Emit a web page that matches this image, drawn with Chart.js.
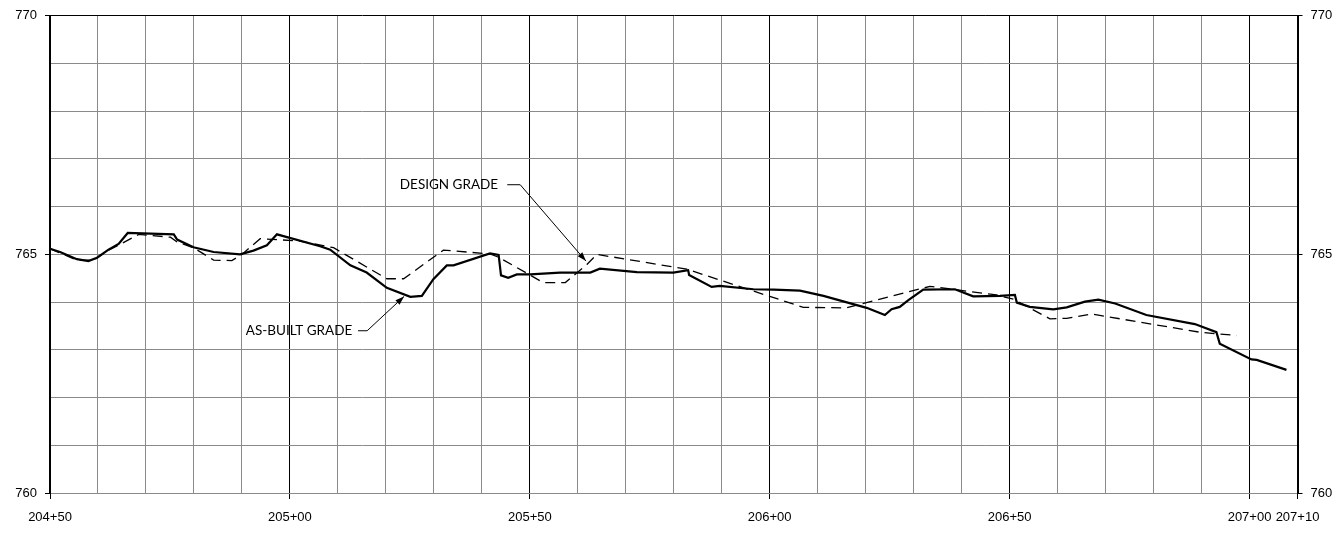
<!DOCTYPE html>
<html>
<head>
<meta charset="utf-8">
<script src="https://cdn.jsdelivr.net/npm/chart.js@4.4.1/dist/chart.umd.min.js"></script>
<style>
html, body { margin: 0; padding: 0; background: #fff; }
#wrap { width: 1339px; height: 539px; }
</style>
</head>
<body>
<div id="wrap"><canvas id="profileChart"></canvas></div>
<script>
// --- Grade profile: as-built vs design ---
const stationMin = 20450;
const stationMax = 20710;
const elevMin = 760;
const elevMax = 770;
const labeledStations = [20450, 20500, 20550, 20600, 20650, 20700, 20710];
const labeledElevs = [760, 765, 770];

// As-built grade (station ft, elevation ft)
const asBuiltSta = [20450.0, 20452.1, 20455.6, 20458.0, 20459.8, 20462.2, 20464.3, 20466.2, 20475.8, 20476.5,
    20479.9, 20484.1, 20489.6, 20492.4, 20495.2, 20497.3, 20506.3, 20508.4, 20512.6, 20516.0,
    20520.2, 20525.1, 20527.5, 20529.9, 20532.7, 20534.1, 20541.7, 20543.5, 20544.0, 20545.5,
    20547.3, 20550.1, 20556.3, 20562.6, 20564.6, 20572.3, 20579.9, 20583.0, 20583.2, 20587.9,
    20589.6, 20596.6, 20600.8, 20606.3, 20607.7, 20611.2, 20620.2, 20624.0, 20625.4, 20627.1,
    20628.9, 20632.0, 20638.6, 20642.4, 20648.0, 20651.1, 20651.5, 20654.2, 20659.1, 20661.9,
    20665.7, 20668.5, 20672.0, 20678.5, 20688.6, 20693.1, 20693.8, 20700.4, 20701.5, 20707.7];
const asBuiltElev = [765.12, 765.05, 764.90, 764.86, 764.93, 765.10, 765.22, 765.45, 765.42, 765.31,
    765.15, 765.05, 765.00, 765.08, 765.19, 765.42, 765.17, 765.10, 764.77, 764.62,
    764.30, 764.11, 764.13, 764.48, 764.77, 764.77, 765.02, 764.99, 764.56, 764.51,
    764.58, 764.58, 764.62, 764.62, 764.70, 764.63, 764.62, 764.67, 764.57, 764.32,
    764.34, 764.27, 764.26, 764.24, 764.21, 764.13, 763.88, 763.73, 763.85, 763.90,
    764.04, 764.26, 764.27, 764.12, 764.13, 764.15, 763.99, 763.90, 763.85, 763.89,
    764.01, 764.05, 763.97, 763.73, 763.54, 763.37, 763.13, 762.80, 762.79, 762.58];

// Design grade
const designSta = [20450.0, 20455.6, 20459.1, 20461.9, 20464.6, 20468.5, 20475.1, 20476.5, 20479.9, 20484.1,
    20487.9, 20490.0, 20493.8, 20502.1, 20509.1, 20520.2, 20523.7, 20532.0, 20541.7, 20543.5,
    20552.8, 20557.4, 20561.9, 20564.0, 20582.7, 20607.0, 20616.0, 20633.4, 20647.3, 20650.8,
    20658.4, 20661.9, 20667.1, 20689.6, 20697.3];
const designElev = [765.12, 764.88, 764.88, 765.07, 765.21, 765.42, 765.36, 765.26, 765.14, 764.88,
    764.87, 765.00, 765.33, 765.28, 765.14, 764.49, 764.49, 765.09, 765.01, 764.94,
    764.41, 764.41, 764.79, 765.00, 764.69, 763.89, 763.88, 764.33, 764.15, 764.06,
    763.65, 763.66, 763.75, 763.37, 763.30];

// Callout labels (text end, leader start/end, arrow tip) in data units
const callouts = [
    { text: 'DESIGN GRADE', textSta: 20543.4, elev: 766.46, legA: 20545.3, legB: 20548.0, tipSta: 20561.7, tipElev: 764.86 },
    { text: 'AS-BUILT GRADE', textSta: 20513.0, elev: 763.40, legA: 20514.2, legB: 20516.1, tipSta: 20523.8, tipElev: 764.12 }
];

const toPoints = (xs, ys) => xs.map((x, i) => ({ x: x, y: ys[i] }));

const fmtStation = (v) => {
    const hundreds = Math.floor(v / 100);
    const rest = Math.round(v - hundreds * 100);
    return hundreds + '+' + String(rest).padStart(2, '0');
};

const calloutPlugin = {
    id: 'callouts',
    afterDatasetsDraw(chart) {
        const ctx = chart.ctx;
        const xs = chart.scales.x;
        const ys = chart.scales.y;
        ctx.save();
        ctx.font = '13.5px Lato, "Liberation Sans", sans-serif';
        ctx.fillStyle = '#000';
        ctx.strokeStyle = '#000';
        ctx.lineWidth = 1;
        ctx.textAlign = 'right';
        ctx.textBaseline = 'middle';
        callouts.forEach(c => {
            const ty = ys.getPixelForValue(c.elev);
            ctx.fillText(c.text, xs.getPixelForValue(c.textSta), ty);
            const ax = xs.getPixelForValue(c.legA);
            const bx = xs.getPixelForValue(c.legB);
            const tx = xs.getPixelForValue(c.tipSta);
            const tyy = ys.getPixelForValue(c.tipElev);
            ctx.beginPath();
            ctx.moveTo(ax, ty);
            ctx.lineTo(bx, ty);
            ctx.lineTo(tx, tyy);
            ctx.stroke();
            // arrow head
            const ang = Math.atan2(tyy - ty, tx - bx);
            const len = 9, half = 3;
            ctx.beginPath();
            ctx.moveTo(tx, tyy);
            ctx.lineTo(tx - len * Math.cos(ang) + half * Math.sin(ang), tyy - len * Math.sin(ang) - half * Math.cos(ang));
            ctx.lineTo(tx - len * Math.cos(ang) - half * Math.sin(ang), tyy - len * Math.sin(ang) + half * Math.cos(ang));
            ctx.closePath();
            ctx.fill();
        });
        ctx.restore();
    }
};

Chart.defaults.font.family = '"Liberation Sans", Arial, sans-serif';
Chart.defaults.font.size = 13;
Chart.defaults.color = '#000';

const gridGray = '#8a8a8a';

const yGridColor = (c) => (c.tick && c.tick.value === elevMax) ? '#000' : gridGray;
const yTickColor = (c) => (c.tick && labeledElevs.includes(c.tick.value)) ? '#000' : 'rgba(0,0,0,0)';

new Chart(document.getElementById('profileChart'), {
    type: 'line',
    data: {
        datasets: [
            {
                label: 'As-Built Grade',
                data: toPoints(asBuiltSta, asBuiltElev),
                borderColor: '#000',
                borderWidth: 2.2,
                pointRadius: 0,
                tension: 0,
                fill: false
            },
            {
                label: 'Design Grade',
                data: toPoints(designSta, designElev),
                borderColor: '#000',
                borderWidth: 1.3,
                borderDash: [10, 6],
                pointRadius: 0,
                tension: 0,
                fill: false
            }
        ]
    },
    options: {
        responsive: true,
        maintainAspectRatio: false,
        animation: false,
        layout: { padding: { top: 13, left: 0, right: 0, bottom: 0 } },
        plugins: {
            legend: { display: false },
            tooltip: { enabled: false }
        },
        scales: {
            x: {
                type: 'linear',
                min: stationMin,
                max: stationMax,
                afterBuildTicks: (s) => {
                    const t = [];
                    for (let v = stationMin; v <= stationMax; v += 10) t.push({ value: v });
                    s.ticks = t;
                },
                afterFit: (s) => { s.height = 46; },
                ticks: {
                    autoSkip: false,
                    maxRotation: 0,
                    padding: 11,
                    callback: (v) => labeledStations.includes(v) ? fmtStation(v) : ''
                },
                grid: {
                    color: (c) => (c.tick && (c.tick.value - stationMin) % 50 === 0 && c.tick.value !== stationMin) ? '#000' : gridGray,
                    tickColor: (c) => (c.tick && labeledStations.includes(c.tick.value)) ? '#000' : 'rgba(0,0,0,0)',
                    tickLength: 6,
                    lineWidth: 1
                },
                border: { color: gridGray, width: 1 }
            },
            y: {
                type: 'linear',
                position: 'left',
                min: elevMin,
                max: elevMax,
                afterFit: (s) => { s.width = 50; },
                ticks: {
                    stepSize: 1,
                    padding: 8,
                    callback: (v) => labeledElevs.includes(v) ? String(v) : ''
                },
                grid: {
                    color: yGridColor,
                    tickColor: yTickColor,
                    tickLength: 5,
                    lineWidth: 1
                },
                border: { color: '#000', width: 2 }
            },
            y1: {
                type: 'linear',
                position: 'right',
                min: elevMin,
                max: elevMax,
                afterFit: (s) => { s.width = 41.5; },
                ticks: {
                    stepSize: 1,
                    padding: 8,
                    callback: (v) => labeledElevs.includes(v) ? String(v) : ''
                },
                grid: {
                    drawOnChartArea: false,
                    tickColor: yTickColor,
                    tickLength: 5
                },
                border: { color: '#000', width: 2 }
            }
        }
    },
    plugins: [calloutPlugin]
});
</script>
</body>
</html>
